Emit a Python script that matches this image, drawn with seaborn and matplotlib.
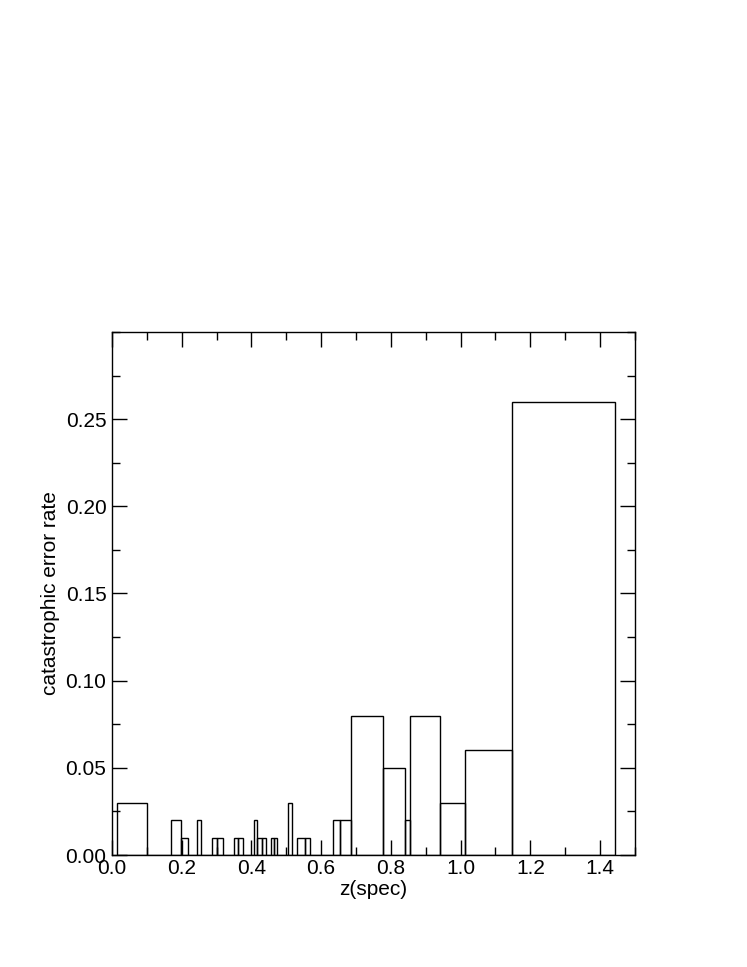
import numpy as np
import pandas as pd
import matplotlib
matplotlib.use("Agg")
import matplotlib.pyplot as plt
from matplotlib.ticker import MultipleLocator
import seaborn as sns

# bin edges in z(spec) and catastrophic error rate per bin
bin_edges = [0.015, 0.100, 0.168, 0.198, 0.218, 0.244, 0.254, 0.288, 0.301,
             0.318, 0.350, 0.362, 0.375, 0.406, 0.417, 0.429, 0.442, 0.456,
             0.464, 0.474, 0.504, 0.515, 0.530, 0.555, 0.567, 0.633, 0.654,
             0.687, 0.778, 0.841, 0.856, 0.942, 1.013, 1.146, 1.442]
error_rate = [0.03, 0.00, 0.02, 0.01, 0.00, 0.02, 0.00, 0.01, 0.01,
              0.00, 0.01, 0.01, 0.00, 0.02, 0.01, 0.01, 0.00, 0.01,
              0.01, 0.00, 0.03, 0.00, 0.01, 0.01, 0.00, 0.02, 0.02,
              0.08, 0.05, 0.02, 0.08, 0.03, 0.06, 0.26]

edges = np.array(bin_edges)
df = pd.DataFrame({
    "z": 0.5 * (edges[:-1] + edges[1:]),
    "rate": error_rate,
})

sns.set_style("ticks")
plt.rcParams['font.family'] = ['Liberation Sans', 'DejaVu Sans']
plt.rcParams.update({"text.color": "black", "axes.labelcolor": "black",
                     "xtick.color": "black", "ytick.color": "black",
                     "axes.edgecolor": "black"})

fig = plt.figure(figsize=(7.47, 9.67), dpi=100)
ax = fig.add_axes([0.1499, 0.1158, 0.7001, 0.5409])

sns.histplot(data=df, x="z", weights="rate", bins=list(bin_edges),
             element="bars", fill=False, color="black", linewidth=1.0, ax=ax)

ax.set_xlim(0, 1.5)
ax.set_ylim(0, 0.3)
xt = np.arange(0, 1.41, 0.2)
yt = np.arange(0, 0.251, 0.05)
ax.set_xticks(xt)
ax.set_yticks(yt)
ax.set_xticklabels([f"{v:.1f}" for v in xt])
ax.set_yticklabels([f"{v:.2f}" for v in yt])
ax.xaxis.set_minor_locator(MultipleLocator(0.1))
ax.yaxis.set_minor_locator(MultipleLocator(0.025))
ax.tick_params(which="both", direction="in", top=True, right=True,
               width=1.0, labelsize=15, color="black", labelcolor="black")
ax.tick_params(which="major", length=10.8)
ax.tick_params(axis="y", which="major", pad=4)
ax.tick_params(axis="x", which="major", pad=3)
ax.tick_params(which="minor", length=5.8)
for sp in ax.spines.values():
    sp.set_linewidth(1.0)
    sp.set_color("black")
    sp.set_visible(True)

ax.set_xlabel("z(spec)", fontsize=15, labelpad=1, color="black")
ax.set_ylabel("catastrophic error rate", fontsize=15, labelpad=4, color="black")

fig.savefig("out.png", dpi=100)
